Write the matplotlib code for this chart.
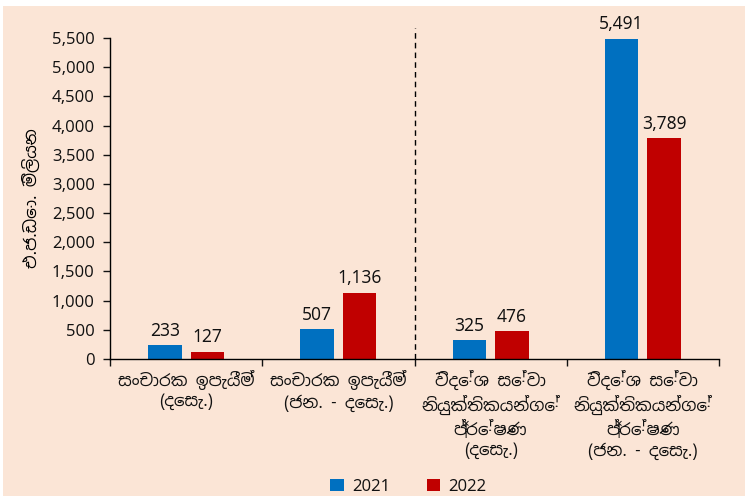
import numpy as np
import matplotlib
matplotlib.use("Agg")
import matplotlib.pyplot as plt
from matplotlib.patches import Rectangle

plt.rcParams['font.family'] = ['Noto Sans Sinhala', 'Open Sans', 'DejaVu Sans']
plt.rcParams['text.color'] = "#111111"
plt.rcParams['xtick.color'] = "#111111"
plt.rcParams['ytick.color'] = "#111111"

categories = [
    "සංචාරක ඉපැයීම්\n(දෙසැ.)",
    "සංචාරක ඉපැයීම්\n(ජන. - දෙසැ.)",
    "විදේශ සේවා\nනියුක්තිකයන්ගේ\nප්‍රේෂණ\n(දෙසැ.)",
    "විදේශ සේවා\nනියුක්තිකයන්ගේ\nප්‍රේෂණ\n(ජන. - දෙසැ.)",
]
values_2021 = [233, 507, 325, 5491]
values_2022 = [127, 1136, 476, 3789]
series_names = ["2021", "2022"]
ylabel = "එ.ජ.ඩො. මිලියන"

blue = "#0070C0"
red = "#C00000"
bg = "#FBE5D6"

fig = plt.figure(figsize=(7.5, 5), dpi=100)
fig.patch.set_facecolor("white")
fig.patches.append(Rectangle((3 / 750, 4 / 500), 742 / 750, 490 / 500,
                             transform=fig.transFigure, facecolor=bg,
                             edgecolor="none", zorder=-10))

ax = fig.add_axes([110 / 750, 1 - 359 / 500, 609 / 750, 321 / 500])
ax.set_facecolor("none")

x = np.arange(len(categories))
w = 0.22
off = 0.14
b1 = ax.bar(x - off, values_2021, w, color=blue, label=series_names[0])
b2 = ax.bar(x + off, values_2022, w, color=red, label=series_names[1])

for bars in (b1, b2):
    for rect in bars:
        h = rect.get_height()
        ax.text(rect.get_x() + rect.get_width() / 2, h + 90, f"{h:,.0f}",
                ha="center", va="bottom", fontsize=12.5)

ax.set_xlim(-0.5, len(categories) - 0.5)
ax.set_ylim(0, 5500)
ax.set_yticks(np.arange(0, 5501, 500))
ax.set_yticklabels([f"{v:,}" for v in range(0, 5501, 500)], fontsize=12)
ax.tick_params(axis="y", direction="out", length=5, width=1, pad=6)

ax.set_xticks(x)
ax.set_xticklabels(categories, fontsize=12, linespacing=1.3)
ax.tick_params(axis="x", length=0, pad=8)
ax.set_xticks(np.arange(-0.5, len(categories)), minor=True)
ax.tick_params(axis="x", which="minor", length=5, width=1, direction="out")

for s in ["top", "right"]:
    ax.spines[s].set_visible(False)
ax.spines["left"].set_linewidth(1)
ax.spines["bottom"].set_linewidth(1)

ax.set_ylabel(ylabel, fontsize=12, labelpad=8)

# separator between tourism and remittances
ax.plot([1.5, 1.5], [0, 1.03], transform=ax.get_xaxis_transform(),
        color="black", linestyle=(0, (4, 3)), linewidth=1, clip_on=False)

ax.legend(loc="lower center", bbox_to_anchor=(0.49, -0.47), ncol=2,
          frameon=False, fontsize=12, handlelength=0.8, handleheight=0.8,
          handletextpad=0.5, columnspacing=2.2)

fig.savefig("out.png", dpi=100)
